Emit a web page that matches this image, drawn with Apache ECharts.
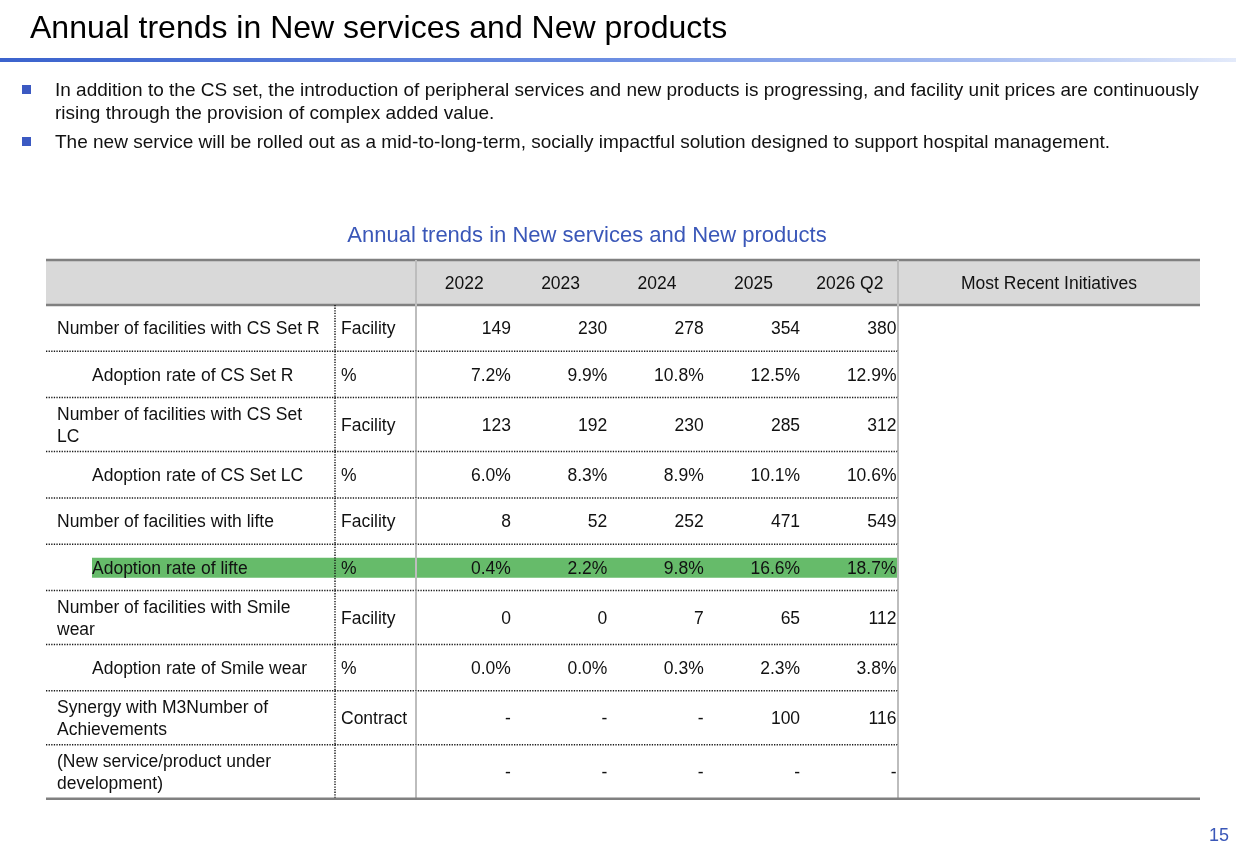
<!DOCTYPE html>
<html>
<head>
    <meta charset="utf-8">
    <title>Annual trends in New services and New products</title>
    <script src="https://cdn.jsdelivr.net/npm/echarts@6/dist/echarts.min.js"></script>
    <style type="text/css">
        html, body { margin: 0; padding: 0; background: #fff; }
        #main { width: 1236px; height: 848px; }
    </style>
</head>
<body>
    <div id="main"></div>
    <script>
        // ---- data ----
        var years = ['2022', '2023', '2024', '2025', '2026 Q2'];
        var rowLabels = [
            'Number of facilities with CS Set R',
            'Adoption rate of CS Set R',
            'Number of facilities with CS Set\nLC',
            'Adoption rate of CS Set LC',
            'Number of facilities with lifte',
            'Adoption rate of lifte',
            'Number of facilities with Smile\nwear',
            'Adoption rate of Smile wear',
            'Synergy with M3Number of\nAchievements',
            '(New service/product under\ndevelopment)'
        ];
        var rowUnits = ['Facility', '%', 'Facility', '%', 'Facility', '%', 'Facility', '%', 'Contract', ''];
        var csSetR = [149, 230, 278, 354, 380];
        var csSetRRate = [7.2, 9.9, 10.8, 12.5, 12.9];
        var csSetLC = [123, 192, 230, 285, 312];
        var csSetLCRate = [6.0, 8.3, 8.9, 10.1, 10.6];
        var lifte = [8, 52, 252, 471, 549];
        var lifteRate = [0.4, 2.2, 9.8, 16.6, 18.7];
        var smileWear = [0, 0, 7, 65, 112];
        var smileWearRate = [0.0, 0.0, 0.3, 2.3, 3.8];
        var m3Synergy = [null, null, null, 100, 116];
        var underDevelopment = [null, null, null, null, null];
        var highlightRow = 'Adoption rate of lifte';
        var lastColumnTitle = 'Most Recent Initiatives';

        var rowValues = [csSetR, csSetRRate, csSetLC, csSetLCRate, lifte, lifteRate,
            smileWear, smileWearRate, m3Synergy, underDevelopment];

        // ---- layout (table units = px inside the grid) ----
        var FONT = '"Liberation Sans", Arial, sans-serif';
        var CELL_FONT = 17.5;
        var TEXT_DY = 1.5;   // text sits a touch below the row centre
        var TABLE_W = 1154;
        var HEADER_H = 45, ONE_LINE_H = 46.3, TWO_LINE_H = 54;
        var YEAR_W = 96.4;
        var colEdges = [0, 289, 370];
        for (var c = 0; c < years.length; c++) {
            colEdges.push(370 + YEAR_W * (c + 1));
        }
        colEdges.push(TABLE_W);

        var rowTop = [0, HEADER_H];
        for (var i = 0; i < rowLabels.length; i++) {
            var h = rowLabels[i].indexOf('\n') >= 0 ? TWO_LINE_H : ONE_LINE_H;
            rowTop.push(rowTop[rowTop.length - 1] + h);
        }
        var TABLE_H = rowTop[rowTop.length - 1];

        function fmt(v, unit) {
            if (v === null || v === undefined) return '-';
            return unit === '%' ? v.toFixed(1) + '%' : String(v);
        }

        function txt(text, x, y, align, size, color) {
            return {
                type: 'text',
                style: {
                    text: text, x: x, y: y,
                    align: align, textAlign: align,
                    verticalAlign: 'middle', textVerticalAlign: 'middle',
                    fill: color || '#111',
                    font: (size || CELL_FONT) + 'px ' + FONT,
                    lineHeight: 22
                }
            };
        }

        function hline(p1, p2, dotted, color, width) {
            return {
                type: 'line',
                shape: { x1: p1[0], y1: p1[1], x2: p2[0], y2: p2[1] },
                style: {
                    stroke: color || '#222',
                    lineWidth: width || 1.3,
                    lineDash: dotted ? [1.3, 1.3] : null
                }
            };
        }

        var tableData = [];
        for (var r = 0; r <= rowLabels.length; r++) {
            tableData.push([0, r]);
        }

        function renderRow(params, api) {
            var r = api.value(1);
            var top = rowTop[r], bottom = rowTop[r + 1], mid = (top + bottom) / 2;
            var pt = function (x, y) { return api.coord([x, y]); };
            var kids = [];

            if (r === 0) {
                var a = pt(0, top), b = pt(TABLE_W, bottom);
                kids.push({ type: 'rect', shape: { x: a[0], y: a[1], width: b[0] - a[0], height: b[1] - a[1] },
                    style: { fill: '#d9d9d9' } });
                kids.push(hline(pt(0, top), pt(TABLE_W, top), false, '#808080', 2.5));
                kids.push(hline(pt(0, bottom), pt(TABLE_W, bottom), false, '#808080', 2.5));
                kids.push(hline(pt(colEdges[2], top), pt(colEdges[2], bottom), false, '#bdbdbd', 2));
                kids.push(hline(pt(colEdges[7], top), pt(colEdges[7], bottom), false, '#bdbdbd', 2));
                for (var c = 0; c < years.length; c++) {
                    var cx = (colEdges[c + 2] + colEdges[c + 3]) / 2;
                    var p = pt(cx, mid + TEXT_DY);
                    kids.push(txt(years[c], p[0], p[1], 'center'));
                }
                var pl = pt((colEdges[7] + colEdges[8]) / 2, mid + TEXT_DY);
                kids.push(txt(lastColumnTitle, pl[0], pl[1], 'center'));
                return { type: 'group', children: kids };
            }

            var k = r - 1;
            var label = rowLabels[k], unit = rowUnits[k], vals = rowValues[k];
            var sub = label.indexOf('Adoption rate') === 0;
            var labelX = sub ? 46 : 11;

            if (label === highlightRow) {
                var h1 = pt(labelX, mid - 9.5), h2 = pt(colEdges[7] - 1, mid + 10.5);
                kids.push({ type: 'rect', shape: { x: h1[0], y: h1[1], width: h2[0] - h1[0], height: h2[1] - h1[1] },
                    style: { fill: '#66bb6a' } });
            }

            // column separators
            kids.push(hline(pt(colEdges[1], top), pt(colEdges[1], bottom), true, '#111', 1.4));
            kids.push(hline(pt(colEdges[2], top), pt(colEdges[2], bottom), false, '#bdbdbd', 2));
            kids.push(hline(pt(colEdges[7], top), pt(colEdges[7], bottom), false, '#bdbdbd', 2));

            // row separator
            if (r === rowLabels.length) {
                kids.push(hline(pt(0, bottom), pt(TABLE_W, bottom), false, '#808080', 2.5));
            } else {
                kids.push(hline(pt(0, bottom), pt(colEdges[7], bottom), true, '#1a1a1a', 1.5));
            }

            var ty = mid + TEXT_DY;
            var pLab = pt(labelX, ty);
            kids.push(txt(label, pLab[0], pLab[1], 'left'));
            var pUnit = pt(colEdges[1] + 6, ty);
            kids.push(txt(unit, pUnit[0], pUnit[1], 'left'));
            for (var j = 0; j < vals.length; j++) {
                var pv = pt(colEdges[j + 3] - 1.5, ty);
                kids.push(txt(fmt(vals[j], unit), pv[0], pv[1], 'right'));
            }
            return { type: 'group', children: kids };
        }

        var chart = echarts.init(document.getElementById('main'));
        var option = {
            backgroundColor: '#ffffff',
            animation: false,
            grid: { left: 46, top: 260, width: TABLE_W, height: TABLE_H },
            xAxis: { type: 'value', min: 0, max: TABLE_W, show: false },
            yAxis: { type: 'value', min: 0, max: TABLE_H, inverse: true, show: false },
            graphic: [
                { type: 'text', x: 30, y: 29,
                  style: { text: 'Annual trends in New services and New products', fill: '#000',
                      font: '32px ' + FONT, verticalAlign: 'middle', textVerticalAlign: 'middle' } },
                { type: 'rect', shape: { x: 0, y: 58, width: 1236, height: 4 },
                  style: { fill: new echarts.graphic.LinearGradient(0, 0, 1, 0, [
                      { offset: 0, color: '#3b63cd' },
                      { offset: 0.5, color: '#6c8ee2' },
                      { offset: 0.8, color: '#a9bef0' },
                      { offset: 1, color: '#e3eafa' }]) } },
                { type: 'rect', shape: { x: 22, y: 85, width: 9, height: 9 }, style: { fill: '#3b59c2' } },
                { type: 'rect', shape: { x: 22, y: 137, width: 9, height: 9 }, style: { fill: '#3b59c2' } },
                { type: 'text', x: 55, y: 79,
                  style: { text: 'In addition to the CS set, the introduction of peripheral services and new products is progressing, and facility unit prices are continuously\nrising through the provision of complex added value.',
                      fill: '#111', font: '19px ' + FONT, lineHeight: 23 } },
                { type: 'text', x: 55, y: 131,
                  style: { text: 'The new service will be rolled out as a mid-to-long-term, socially impactful solution designed to support hospital management.',
                      fill: '#111', font: '19px ' + FONT, lineHeight: 23 } },
                { type: 'text', x: 587, y: 236,
                  style: { text: 'Annual trends in New services and New products', fill: '#3a57b8',
                      font: '22px ' + FONT, align: 'center', textAlign: 'center',
                      verticalAlign: 'middle', textVerticalAlign: 'middle' } },
                { type: 'text', x: 1229, y: 836,
                  style: { text: '15', fill: '#3a57b8', font: '18px ' + FONT,
                      align: 'right', textAlign: 'right', verticalAlign: 'middle', textVerticalAlign: 'middle' } }
            ],
            series: [
                {
                    type: 'custom',
                    name: 'table',
                    coordinateSystem: 'cartesian2d',
                    renderItem: renderRow,
                    encode: { x: 0, y: 1 },
                    data: tableData,
                    silent: true
                }
            ]
        };
        chart.setOption(option);
        window.addEventListener('resize', chart.resize);
    </script>
</body>
</html>
